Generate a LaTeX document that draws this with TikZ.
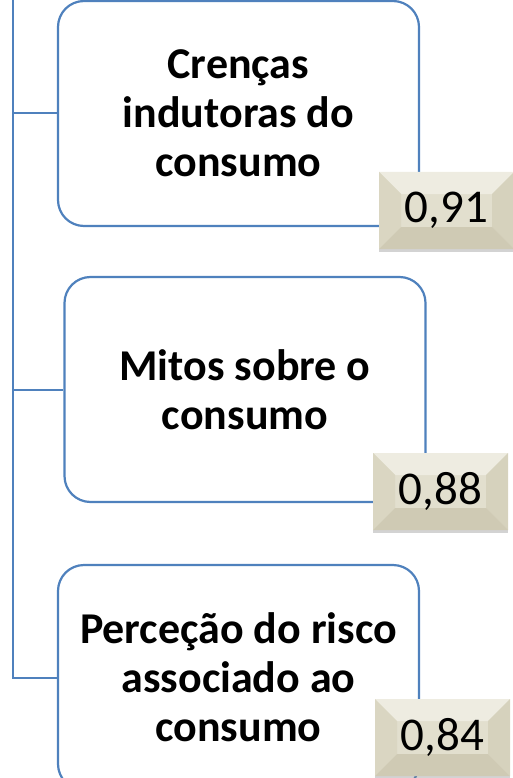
\documentclass[tikz,border=0pt]{standalone}
\usepackage{fontspec}
\setmainfont{Carlito}
\usetikzlibrary{shadows}
\definecolor{boxblue}{RGB}{79,129,189}
\definecolor{bmid}{RGB}{226,223,206}
\definecolor{btop}{RGB}{238,236,225}
\definecolor{bleft}{RGB}{218,214,194}
\definecolor{bright}{RGB}{214,210,189}
\definecolor{bbot}{RGB}{207,202,180}
\tikzset{
  topic/.style={draw=boxblue, line width=2.2pt, rounded corners=26pt, fill=white,
    minimum width=361pt, minimum height=225pt, align=center, inner sep=0pt,
    font=\fontsize{44}{49}\selectfont\bfseries},
  badge/.style={fill=bmid, minimum width=135pt, minimum height=77pt, inner sep=0pt,
    font=\fontsize{47}{52}\selectfont,
    drop shadow={shadow xshift=0pt, shadow yshift=-3pt, opacity=0.35},
    path picture={
      \def\d{22pt}
      \path (path picture bounding box.south west) coordinate (sw)
            (path picture bounding box.north east) coordinate (ne)
            (path picture bounding box.north west) coordinate (nw)
            (path picture bounding box.south east) coordinate (se);
      \fill[btop] (nw) -- (ne) -- ([shift={(-\d,-\d)}]ne) -- ([shift={(\d,-\d)}]nw) -- cycle;
      \fill[bleft] (nw) -- ([shift={(\d,-\d)}]nw) -- ([shift={(\d,\d)}]sw) -- (sw) -- cycle;
      \fill[bright] (ne) -- ([shift={(-\d,-\d)}]ne) -- ([shift={(-\d,\d)}]se) -- (se) -- cycle;
      \fill[bbot] (sw) -- ([shift={(\d,\d)}]sw) -- ([shift={(-\d,\d)}]se) -- (se) -- cycle;
    }},
  conn/.style={draw=boxblue, line width=2pt},
}
\begin{document}
\begin{tikzpicture}[x=1pt,y=-1pt]
\useasboundingbox (0,0) rectangle (513,778);
\node[topic] (b1) at (238.5,113.5) {Crenças\\indutoras do\\consumo};
\node[topic] (b2) at (245,389.5) {Mitos sobre o\\consumo};
\node[topic] (b3) at (238.5,677.5) {Perceção do risco\\associado ao\\consumo};
\coordinate (top) at (13,-2);
\draw[conn] (top) |- (b3.west);
\draw[conn] (top |- b1.west) -- (b1.west);
\draw[conn] (top |- b2.west) -- (b2.west);
\node[badge] (n1) at (446.5,210.5) {0,91};
\node[badge] (n2) at (440.5,491.5) {0,88};
\node[badge] (n3) at (442.5,737.5) {0,84};
\end{tikzpicture}
\end{document}
